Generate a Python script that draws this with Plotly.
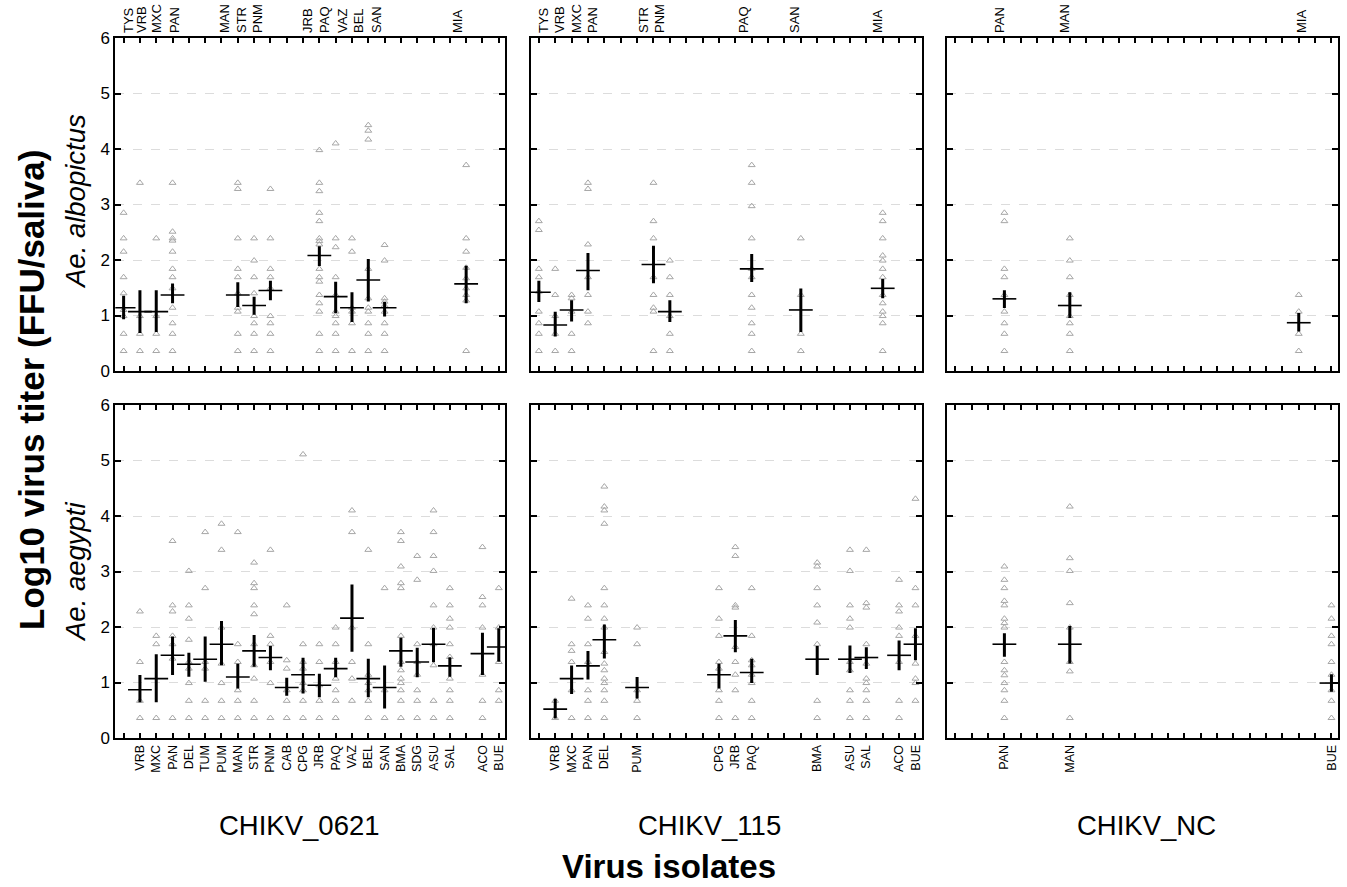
import plotly.graph_objects as go

FONT = "Liberation Sans, Arial, Helvetica, sans-serif"

# Coded isolate axis (code = position in this list)
ISOLATES = ["TYS", "VRB", "MXC", "PAN", "DEL", "TUM", "PUM", "MAN", "STR", "PNM", "CAB", "CPG",
            "JRB", "PAQ", "VAZ", "BEL", "SAN", "BMA", "SDG", "ASU", "SAL", "MIA", "ACO", "BUE"]

# ---------------- Ae. albopictus / CHIKV_0621 ----------------
alb_0621_names = ["TYS", "VRB", "MXC", "PAN", "MAN", "STR", "PNM", "JRB", "PAQ", "VAZ", "BEL", "SAN", "MIA"]
alb_0621_code = [0, 1, 2, 3, 7, 8, 9, 12, 13, 14, 15, 16, 21]
alb_0621_mean = [1.14, 1.07, 1.07, 1.37, 1.37, 1.18, 1.45, 2.08, 1.34, 1.14, 1.64, 1.14, 1.57]
alb_0621_lo = [0.96, 0.71, 0.73, 1.25, 1.18, 1.04, 1.30, 1.92, 1.07, 0.91, 1.28, 1.01, 1.25]
alb_0621_hi = [1.33, 1.43, 1.43, 1.55, 1.57, 1.31, 1.60, 2.22, 1.58, 1.39, 1.99, 1.22, 1.87]
alb_0621_pts = [
    [2.85, 2.39, 2.15, 1.69, 1.40, 1.10, 0.99, 0.67, 0.36],
    [3.39, 0.99, 0.67, 0.36],
    [2.39, 0.99, 0.67, 0.36],
    [3.39, 2.51, 2.39, 2.35, 2.15, 1.84, 1.69, 1.49, 1.14, 0.86, 0.67, 0.36],
    [3.39, 3.28, 2.39, 1.84, 1.69, 1.40, 1.14, 1.07, 0.67, 0.36],
    [2.39, 1.99, 1.69, 1.40, 0.99, 0.86, 0.67, 0.36],
    [3.28, 2.39, 1.84, 1.69, 1.49, 0.99, 0.86, 0.67, 0.36],
    [3.98, 3.39, 3.24, 2.85, 2.70, 2.39, 2.34, 2.28, 1.84, 1.69, 1.61, 1.37, 1.22, 1.07, 0.67, 0.36],
    [4.10, 2.39, 2.23, 1.69, 1.37, 1.07, 0.99, 0.86, 0.67, 0.36],
    [2.39, 2.15, 1.14, 1.07, 0.86, 0.36],
    [4.43, 4.33, 4.17, 1.84, 1.31, 1.14, 1.07, 0.86, 0.67, 0.36],
    [2.27, 1.99, 1.31, 1.25, 1.18, 1.07, 0.86, 0.67, 0.36],
    [3.71, 2.39, 2.15, 1.86, 1.67, 1.49, 1.37, 1.27, 0.36],
]
alb_0621_top_labels = ["TYS", "VRB", "MXC", "PAN", "MAN", "STR", "PNM", "JRB", "PAQ", "VAZ", "BEL", "SAN", "MIA"]
alb_0621_top_at = [0.32, 1.12, 2.04, 3.14, 6.20, 7.24, 8.22, 11.29, 12.33, 13.43, 14.41, 15.51, 20.47]

# ---------------- Ae. albopictus / CHIKV_115 ----------------
alb_115_names = ["TYS", "VRB", "MXC", "PAN", "STR", "PNM", "PAQ", "SAN", "MIA"]
alb_115_code = [0, 1, 2, 3, 7, 8, 13, 16, 21]
alb_115_mean = [1.42, 0.83, 1.10, 1.81, 1.92, 1.07, 1.84, 1.10, 1.49]
alb_115_lo = [1.27, 0.65, 0.92, 1.48, 1.61, 0.91, 1.63, 0.73, 1.34]
alb_115_hi = [1.60, 1.04, 1.25, 2.10, 2.23, 1.25, 2.08, 1.46, 1.63]
alb_115_pts = [
    [2.70, 2.54, 1.84, 1.69, 1.43, 1.07, 0.86, 0.67, 0.36],
    [1.84, 1.37, 0.99, 0.67, 0.36],
    [1.37, 1.31, 1.07, 0.67, 0.36],
    [3.39, 3.28, 2.28, 1.69, 1.37, 1.07, 0.86],
    [3.39, 2.70, 2.39, 1.69, 1.37, 1.14, 1.07, 0.36],
    [1.99, 1.69, 1.37, 0.99, 0.67, 0.36],
    [3.71, 3.39, 2.97, 2.39, 1.84, 1.69, 1.37, 1.14, 0.86, 0.67, 0.36],
    [2.39, 1.37, 0.67, 0.36],
    [2.85, 2.70, 2.39, 2.08, 1.99, 1.84, 1.69, 1.37, 1.22, 1.07, 0.99, 0.86, 0.36],
]
alb_115_top_labels = ["TYS", "VRB", "MXC", "PAN", "STR", "PNM", "PAQ", "SAN", "MIA"]
alb_115_top_at = [0.28, 1.29, 2.31, 3.29, 6.41, 7.39, 12.50, 15.60, 20.70]

# ---------------- Ae. albopictus / CHIKV_NC ----------------
alb_nc_names = ["PAN", "MAN", "MIA"]
alb_nc_code = [3, 7, 21]
alb_nc_mean = [1.30, 1.18, 0.87]
alb_nc_lo = [1.16, 0.98, 0.74]
alb_nc_hi = [1.43, 1.39, 1.02]
alb_nc_pts = [
    [2.85, 2.70, 1.84, 1.69, 1.37, 1.07, 0.86, 0.67, 0.36],
    [2.39, 1.99, 1.69, 1.37, 0.99, 0.86, 0.67, 0.36],
    [1.37, 1.07, 0.67, 0.36],
]
alb_nc_top_labels = ["PAN", "MAN", "MIA"]
alb_nc_top_at = [2.69, 6.69, 21.19]

# ---------------- Ae. aegypti / CHIKV_0621 ----------------
aeg_0621_names = ["VRB", "MXC", "PAN", "DEL", "TUM", "PUM", "MAN", "STR", "PNM", "CAB", "CPG",
                  "JRB", "PAQ", "VAZ", "BEL", "SAN", "BMA", "SDG", "ASU", "SAL", "ACO", "BUE"]
aeg_0621_code = [1, 2, 3, 4, 5, 6, 7, 8, 9, 10, 11, 12, 13, 14, 15, 16, 17, 18, 19, 20, 22, 23]
aeg_0621_mean = [0.87, 1.07, 1.49, 1.33, 1.42, 1.69, 1.10, 1.57, 1.45, 0.91, 1.14,
                 0.95, 1.25, 2.16, 1.07, 0.91, 1.57, 1.37, 1.69, 1.30, 1.52, 1.64]
aeg_0621_lo = [0.67, 0.67, 1.16, 1.13, 1.04, 1.34, 0.92, 1.31, 1.25, 0.79, 0.83,
               0.76, 1.12, 1.58, 0.76, 0.56, 1.31, 1.12, 1.39, 1.13, 1.16, 1.40]
aeg_0621_hi = [1.11, 1.48, 1.80, 1.51, 1.80, 2.08, 1.31, 1.83, 1.63, 1.06, 1.42,
               1.13, 1.42, 2.74, 1.40, 1.28, 1.78, 1.60, 1.96, 1.43, 1.87, 1.95]
aeg_0621_pts = [
    [2.28, 1.37, 0.67, 0.36],
    [1.84, 1.69, 0.36],
    [3.55, 2.39, 2.28, 1.84, 1.69, 1.43, 0.36],
    [3.01, 2.39, 2.15, 1.77, 1.37, 1.25, 0.99, 0.67, 0.36],
    [3.71, 2.70, 1.37, 1.25, 0.67, 0.36],
    [3.86, 3.39, 1.99, 1.34, 0.99, 0.67, 0.36],
    [3.71, 1.69, 1.37, 0.86, 0.67, 0.36],
    [3.16, 2.79, 2.70, 2.39, 2.23, 1.69, 1.31, 1.07, 0.67, 0.36],
    [3.39, 1.84, 1.69, 1.37, 0.99, 0.36],
    [2.39, 1.40, 1.25, 0.86, 0.67, 0.36],
    [5.11, 1.69, 1.37, 1.25, 0.99, 0.86, 0.67, 0.36],
    [1.69, 1.37, 0.95, 0.67, 0.36],
    [1.99, 1.69, 1.37, 1.07, 0.86, 0.67, 0.36],
    [4.10, 3.71, 1.99, 1.37, 1.07, 0.67],
    [3.39, 1.69, 1.14, 0.99, 0.86, 0.67, 0.36],
    [2.70, 0.86, 0.36],
    [3.71, 3.55, 3.09, 2.79, 2.70, 1.84, 1.37, 1.22, 1.07, 0.99, 0.86, 0.67, 0.36],
    [3.28, 2.85, 1.69, 1.37, 1.14, 0.86, 0.67, 0.36],
    [4.10, 3.71, 3.28, 3.01, 2.39, 1.99, 1.69, 1.31, 0.67, 0.36],
    [2.70, 2.39, 2.15, 1.99, 1.69, 1.46, 1.07, 0.86, 0.67, 0.36],
    [3.44, 2.54, 2.39, 1.99, 1.14, 0.67, 0.36],
    [2.70, 1.99, 1.37, 0.86, 0.67],
]

# ---------------- Ae. aegypti / CHIKV_115 ----------------
aeg_115_names = ["VRB", "MXC", "PAN", "DEL", "PUM", "CPG", "JRB", "PAQ", "BMA", "ASU", "SAL", "ACO", "BUE"]
aeg_115_code = [1, 2, 3, 4, 6, 11, 12, 13, 17, 19, 20, 22, 23]
aeg_115_mean = [0.52, 1.07, 1.30, 1.77, 0.91, 1.14, 1.84, 1.18, 1.42, 1.42, 1.45, 1.49, 1.69]
aeg_115_lo = [0.38, 0.82, 1.08, 1.46, 0.74, 0.92, 1.57, 1.02, 1.16, 1.20, 1.27, 1.25, 1.43]
aeg_115_hi = [0.68, 1.28, 1.54, 2.02, 1.07, 1.31, 2.10, 1.40, 1.63, 1.64, 1.61, 1.73, 1.95]
aeg_115_pts = [
    [0.67, 0.36],
    [2.51, 1.69, 1.57, 1.37, 0.86, 0.36],
    [2.39, 2.15, 1.69, 1.37, 0.86, 0.67, 0.36],
    [4.53, 4.17, 4.10, 3.86, 2.70, 2.39, 2.15, 1.99, 1.55, 1.34, 1.22, 1.07, 0.99, 0.86, 0.67, 0.36],
    [1.99, 1.69, 0.86, 0.67, 0.36],
    [2.70, 2.15, 1.84, 1.37, 1.25, 0.86, 0.67, 0.36],
    [3.44, 3.28, 2.39, 2.35, 1.64, 1.37, 1.14, 0.86, 0.36],
    [2.70, 1.84, 1.40, 1.31, 1.14, 0.99, 0.67, 0.36],
    [3.16, 3.09, 2.70, 2.39, 2.08, 1.69, 0.67, 0.36],
    [3.39, 3.01, 2.39, 2.15, 1.99, 1.37, 1.22, 0.86, 0.67, 0.36],
    [3.39, 2.43, 2.35, 1.69, 1.34, 1.07, 0.99, 0.86, 0.67, 0.36],
    [2.85, 2.39, 2.28, 1.99, 1.84, 1.37, 0.67, 0.36],
    [4.31, 2.70, 2.39, 1.84, 1.34, 1.07, 0.99, 0.67],
]

# ---------------- Ae. aegypti / CHIKV_NC ----------------
aeg_nc_names = ["PAN", "MAN", "BUE"]
aeg_nc_code = [3, 7, 23]
aeg_nc_mean = [1.69, 1.69, 0.99]
aeg_nc_lo = [1.49, 1.37, 0.86]
aeg_nc_hi = [1.86, 1.99, 1.12]
aeg_nc_pts = [
    [3.09, 2.85, 2.70, 2.47, 2.39, 2.15, 2.07, 1.99, 1.37, 1.22, 1.13, 0.99, 0.86, 0.67, 0.36],
    [4.17, 3.24, 3.01, 2.43, 1.99, 1.37, 1.20, 0.36],
    [2.39, 2.15, 1.84, 1.69, 1.37, 1.14, 0.86, 0.67, 0.36],
]

virus_titles = ["CHIKV_0621", "CHIKV_115", "CHIKV_NC"]
species_titles = ["Ae. albopictus", "Ae. aegypti"]

panels = [
    dict(names=alb_0621_names, code=alb_0621_code, mean=alb_0621_mean, lo=alb_0621_lo, hi=alb_0621_hi,
         pts=alb_0621_pts, top_labels=alb_0621_top_labels, top_at=alb_0621_top_at),
    dict(names=alb_115_names, code=alb_115_code, mean=alb_115_mean, lo=alb_115_lo, hi=alb_115_hi,
         pts=alb_115_pts, top_labels=alb_115_top_labels, top_at=alb_115_top_at),
    dict(names=alb_nc_names, code=alb_nc_code, mean=alb_nc_mean, lo=alb_nc_lo, hi=alb_nc_hi,
         pts=alb_nc_pts, top_labels=alb_nc_top_labels, top_at=alb_nc_top_at),
    dict(names=aeg_0621_names, code=aeg_0621_code, mean=aeg_0621_mean, lo=aeg_0621_lo, hi=aeg_0621_hi,
         pts=aeg_0621_pts),
    dict(names=aeg_115_names, code=aeg_115_code, mean=aeg_115_mean, lo=aeg_115_lo, hi=aeg_115_hi,
         pts=aeg_115_pts),
    dict(names=aeg_nc_names, code=aeg_nc_code, mean=aeg_nc_mean, lo=aeg_nc_lo, hi=aeg_nc_hi,
         pts=aeg_nc_pts),
]

W, H = 1347, 887
col_px = [(115.3, 505.3), (530.5, 922.0), (947.0, 1338.0)]
row_px = [(38.0, 371.0), (405.0, 738.0)]
col_dom = [(a / W, b / W) for a, b in col_px]
row_dom = [(1 - b / H, 1 - a / H) for a, b in row_px]
XR = [-0.51, 23.4]

fig = go.Figure()
layout = dict(width=W, height=H, margin=dict(l=0, r=0, t=0, b=0, autoexpand=False),
              plot_bgcolor="white", paper_bgcolor="white", showlegend=False,
              font=dict(family=FONT, color="black"))

for k, p in enumerate(panels):
    r, c = divmod(k, 3)
    n = k + 1
    xs = "x" if n == 1 else f"x{n}"
    ys = "y" if n == 1 else f"y{n}"
    px, py = [], []
    for code, pts in zip(p["code"], p["pts"]):
        px += [code] * len(pts)
        py += pts
    fig.add_trace(go.Scatter(
        x=px, y=py, xaxis=xs, yaxis=ys, mode="markers", hoverinfo="skip",
        marker=dict(symbol="triangle-up-open", size=6, color="#a6a6a6", line=dict(width=1, color="#a6a6a6"))))
    fig.add_trace(go.Scatter(
        x=p["code"], y=p["mean"], xaxis=xs, yaxis=ys, mode="markers",
        marker=dict(symbol="line-ew", size=17, color="black", line=dict(width=1.6, color="black")),
        error_y=dict(type="data", symmetric=False,
                     array=[h - m for h, m in zip(p["hi"], p["mean"])],
                     arrayminus=[m - l for m, l in zip(p["mean"], p["lo"])],
                     color="black", thickness=3, width=1.5)))

    xa = dict(domain=list(col_dom[c]), range=XR, anchor=ys, tickmode="array",
              tickvals=list(range(len(ISOLATES))), ticks="inside", ticklen=5, tickwidth=2,
              tickcolor="black", showline=True, linewidth=2, linecolor="black", mirror="ticks",
              showgrid=False, zeroline=False, fixedrange=True, automargin=False)
    if r == 0:
        xa["showticklabels"] = False
    else:
        txt = [""] * len(ISOLATES)
        for nm, code in zip(p["names"], p["code"]):
            txt[code] = nm
        xa.update(ticktext=txt, tickangle=-90, tickfont=dict(size=12.5, family=FONT, color="black"))
    layout["xaxis" if n == 1 else f"xaxis{n}"] = xa

    ya = dict(domain=list(row_dom[r]), range=[0, 6], anchor=xs, tickmode="array",
              tickvals=[0, 1, 2, 3, 4, 5, 6], ticks="inside", ticklen=6, tickwidth=2,
              tickcolor="black", showline=True, linewidth=2, linecolor="black", mirror="ticks",
              showgrid=True, gridcolor="#dcdcdc", gridwidth=1, griddash="dash", zeroline=False,
              showticklabels=(c == 0), tickfont=dict(size=17, family=FONT, color="black"),
              fixedrange=True, automargin=False)
    layout["yaxis" if n == 1 else f"yaxis{n}"] = ya

    if r == 0:
        m = 7 + c
        fig.add_trace(go.Scatter(x=[None], y=[None], xaxis=f"x{m}", yaxis=ys, mode="markers",
                                 hoverinfo="skip"))
        layout[f"xaxis{m}"] = dict(overlaying=xs, side="top", anchor=ys, range=XR, tickmode="array",
                                   tickvals=p["top_at"], ticktext=p["top_labels"], tickangle=-90,
                                   ticks="", showline=False, showgrid=False, zeroline=False,
                                   ticklabelstandoff=4,
                                   tickfont=dict(size=13, family=FONT, color="black"),
                                   fixedrange=True, automargin=False)

ann = [
    dict(text="<b>Log10 virus titer (FFU/saliva)</b>", x=31 / W, y=1 - 390 / H, textangle=-90,
         font=dict(size=35, family=FONT, color="black")),
    dict(text="<i>" + species_titles[0] + "</i>", x=75 / W, y=1 - 202 / H, textangle=-90,
         font=dict(size=27.5, family=FONT, color="black")),
    dict(text="<i>" + species_titles[1] + "</i>", x=75 / W, y=1 - 572 / H, textangle=-90,
         font=dict(size=27.5, family=FONT, color="black")),
    dict(text="<b>Virus isolates</b>", x=669 / W, y=1 - 866 / H,
         font=dict(size=33, family=FONT, color="black")),
]
for t, cx in zip(virus_titles, [299, 709, 1146]):
    ann.append(dict(text=t, x=cx / W, y=1 - 825 / H, font=dict(size=27.5, family=FONT, color="black")))
for a in ann:
    a.update(xref="paper", yref="paper", showarrow=False, xanchor="center", yanchor="middle")
layout["annotations"] = ann

fig.update_layout(**layout)
fig.write_html("out.html", config={"displayModeBar": False},
               post_script="document.body.style.margin='0px';document.body.style.overflow='hidden';")
